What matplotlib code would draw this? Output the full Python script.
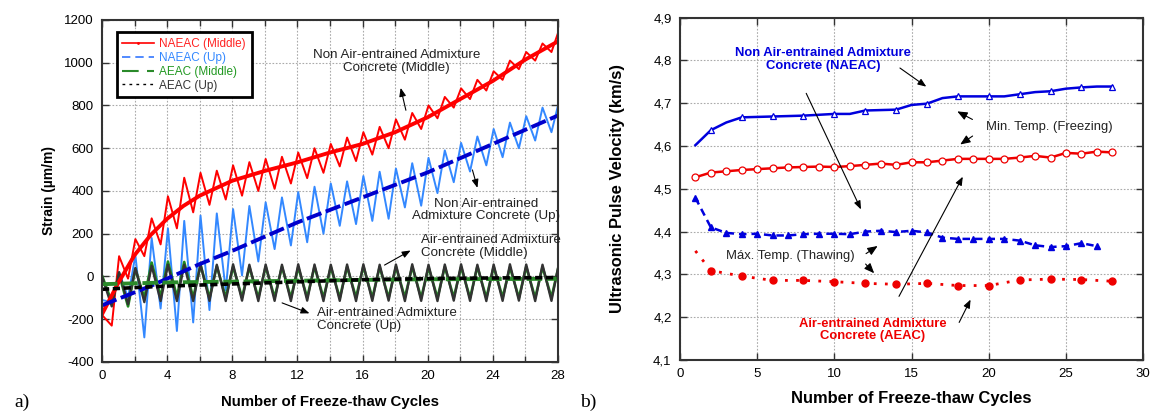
import numpy as np
import matplotlib.pyplot as plt
from matplotlib.lines import Line2D

plt.rcParams['font.family'] = ['Liberation Sans', 'DejaVu Sans']
plt.rcParams['axes.unicode_minus'] = False

# ---------------- a) strain vs cycles ----------------
# thick trend lines
trend_cyc_mid = [0, 1, 2, 3, 4, 5, 6, 8, 10, 12, 14, 16, 18, 20, 22, 24, 26, 28]
naeac_mid_trend = [-177, -30, 100, 195, 270, 330, 378, 448, 494, 534, 580, 620, 675, 745, 830, 915, 1015, 1100]
trend_cyc_up = [0, 3, 6, 8, 12, 16, 20, 24, 28]
naeac_up_trend = [-135, -44, 58, 120, 253, 370, 487, 620, 753]
trend_cyc_ae = [0, 2, 4, 8, 12, 16, 20, 24, 28]
aeac_mid_trend = [-36, -32, -28, -24, -20, -16, -13, -12, -11]
aeac_up_trend = [-60, -52, -45, -35, -25, -15, -10, -7, -5]

# raw readings: value at start, trough of each cycle (k+0.6), peak of each cycle (k+1)
naeac_mid_start = -180
naeac_mid_trough = [-230, -10, 95, 150, 225, 300, 335, 360, 378, 400, 410, 435, 460, 485,
                    515, 540, 570, 600, 640, 690, 740, 790, 830, 870, 920, 970, 1010, 1050]
naeac_mid_peak = [95, 175, 272, 375, 462, 485, 495, 520, 535, 550, 560, 580, 600, 620,
                  650, 675, 700, 735, 765, 800, 840, 880, 920, 960, 1010, 1050, 1090, 1150]
naeac_up_start = -110
naeac_up_trough = [-120, -100, -285, -150, -255, -215, -157, -65, 5, 70, 128, 145, 160, 200,
                   237, 245, 260, 270, 323, 331, 390, 441, 491, 520, 558, 600, 636, 675]
naeac_up_peak = [20, 100, 180, 225, 260, 285, 295, 315, 330, 347, 370, 395, 420, 435,
                 445, 470, 490, 505, 530, 555, 590, 625, 655, 690, 720, 750, 790, 815]
aeac_mid_start = 5
aeac_mid_trough = [-120, -140, -100, -95, -95, -100, -100, -98, -98, -100, -98, -100, -98, -100,
                   -100, -98, -100, -100, -98, -100, -100, -98, -100, -100, -98, -100, -100, -98]
aeac_mid_peak = [10, 35, 65, 70, 68, 55, 48, 45, 44, 46, 45, 43, 46, 44,
                 45, 47, 44, 45, 46, 43, 45, 44, 46, 45, 43, 45, 44, 50]
aeac_up_start = 0
aeac_up_trough = [-140, -130, -120, -115, -115, -115, -114, -115, -113, -115, -114, -115, -113, -115,
                  -114, -115, -114, -113, -115, -114, -115, -113, -114, -115, -114, -113, -115, -114]
aeac_up_peak = [20, 40, 50, 55, 55, 56, 55, 57, 55, 56, 55, 57, 56, 55,
                56, 57, 55, 56, 57, 55, 56, 57, 55, 56, 57, 56, 55, 58]

strain_ticks = [-400, -200, 0, 200, 400, 600, 800, 1000, 1200]
cyc_ticks_a = [0, 4, 8, 12, 16, 20, 24, 28]

# ---------------- b) UPV vs cycles ----------------
cyc = list(range(1, 29))
naeac_min = [4.602, 4.637, 4.655, 4.667, 4.668, 4.669, 4.670, 4.671, 4.673, 4.675, 4.675, 4.683, 4.684, 4.685,
             4.696, 4.699, 4.712, 4.716, 4.716, 4.716, 4.716, 4.721, 4.726, 4.728, 4.734, 4.737, 4.739, 4.739]
aeac_min = [4.527, 4.538, 4.541, 4.544, 4.546, 4.548, 4.550, 4.551, 4.552, 4.551, 4.553, 4.556, 4.559, 4.556,
            4.562, 4.562, 4.566, 4.570, 4.570, 4.570, 4.570, 4.573, 4.577, 4.573, 4.584, 4.582, 4.587, 4.585]
cyc_max_na = list(range(1, 28))
naeac_max = [4.479, 4.410, 4.397, 4.394, 4.395, 4.391, 4.391, 4.394, 4.395, 4.395, 4.394, 4.400, 4.402, 4.399,
             4.402, 4.398, 4.386, 4.383, 4.383, 4.383, 4.383, 4.379, 4.368, 4.364, 4.366, 4.373, 4.366]
cyc_max_ae = [1, 2, 4, 6, 8, 10, 12, 14, 16, 18, 20, 22, 24, 26, 28]
aeac_max = [4.355, 4.309, 4.296, 4.286, 4.286, 4.283, 4.279, 4.277, 4.279, 4.274, 4.274, 4.287, 4.289, 4.288, 4.284]

upv_ticks = [4.1, 4.2, 4.3, 4.4, 4.5, 4.6, 4.7, 4.8, 4.9]
upv_labels = ['4,1', '4,2', '4,3', '4,4', '4,5', '4,6', '4,7', '4,8', '4,9']
cyc_ticks_b = [0, 5, 10, 15, 20, 25, 30]


def zigzag(start, troughs, peaks):
    x = [0]
    y = [start]
    for k in range(len(troughs)):
        x += [k + 0.6, k + 1.05]
        y += [troughs[k], peaks[k]]
    return x, y


def style_axes(ax):
    for s in ax.spines.values():
        s.set_linewidth(1.5)
        s.set_color('#333333')
    ax.tick_params(which='both', direction='in', top=True, right=True,
                   length=5, width=1, labelsize=9.5, pad=6, colors='#333333', labelcolor='black')
    ax.grid(True, which='both', linestyle=(0, (1.5, 1.5)), color='#aaaaaa', linewidth=0.8)
    ax.set_axisbelow(True)


fig = plt.figure(figsize=(11.55, 4.12), dpi=100)
ax1 = fig.add_axes([0.0883, 0.1214, 0.3948, 0.8301])
ax2 = fig.add_axes([0.5887, 0.1262, 0.4011, 0.8310])

# ---- panel a
raw = dict(solid_joinstyle='round', solid_capstyle='round')
xb, yb = zigzag(naeac_up_start, naeac_up_trough, naeac_up_peak)
ax1.plot(xb, yb, color='#3388ff', lw=1.4, **raw)
xr, yr = zigzag(naeac_mid_start, naeac_mid_trough, naeac_mid_peak)
ax1.plot(xr, yr, color='#ff0000', lw=1.4, **raw)
xg, yg = zigzag(aeac_mid_start, aeac_mid_trough, aeac_mid_peak)
ax1.plot(xg, yg, color='#1f8a1f', lw=1.9, **raw)
xk, yk = zigzag(aeac_up_start, aeac_up_trough, aeac_up_peak)
ax1.plot(xk, yk, color='#333333', lw=1.7, **raw)

ax1.plot(trend_cyc_mid, naeac_mid_trend, color='#ff0000', lw=2.8)
ax1.plot(trend_cyc_up, naeac_up_trend, color='#0000cc', lw=2.8, ls=(0, (4, 1.2)))
ax1.plot(trend_cyc_ae, aeac_mid_trend, color='#2a8a2a', lw=2.8, ls=(0, (4, 1.2)))
ax1.plot(trend_cyc_ae, aeac_up_trend, color='black', lw=2.6, ls=(0, (2, 1)))

ax1.set_xlim(0, 28)
ax1.set_ylim(-400, 1200)
ax1.set_xticks(cyc_ticks_a)
ax1.set_xticks(range(0, 29, 2), minor=True)
ax1.set_yticks(strain_ticks)
style_axes(ax1)
ax1.tick_params(which='minor', length=4)
ax1.set_xlabel('Number of Freeze-thaw Cycles', fontsize=10.8, fontweight='bold', labelpad=9)
ax1.set_ylabel('Strain (\u00b5m/m)', fontsize=10, fontweight='bold', labelpad=6)

handles = [
    Line2D([], [], color='#ff0000', lw=1.2, marker='.', markersize=2, markevery=[1]),
    Line2D([], [], color='#3377ff', lw=1.2, ls=(0, (5, 3))),
    Line2D([], [], color='#2a8a2a', lw=1.5, ls=(0, (8, 4))),
    Line2D([], [], color='black', lw=1.0, ls=(0, (2, 3))),
]
labels = ['NAEAC (Middle)', 'NAEAC (Up)', 'AEAC (Middle)', 'AEAC (Up)']
leg = ax1.legend(handles, labels, loc='upper left', bbox_to_anchor=(0.032, 0.964),
                 borderaxespad=0, fancybox=False, fontsize=8.5, handlelength=2.7,
                 labelspacing=0.15, borderpad=0.5, handletextpad=0.4, framealpha=1)
leg.get_frame().set_edgecolor('black')
leg.get_frame().set_linewidth(2)
for txt, c in zip(leg.get_texts(), ['#ff2222', '#3388ff', '#229922', '#333333']):
    txt.set_color(c)

ann = dict(fontsize=9.6, color='#222222', ha='center', va='center', linespacing=1.1)
ax1.text(18.1, 1004, 'Non Air-entrained Admixture\nConcrete (Middle)', **ann)
ax1.text(23.6, 311, 'Non Air-entrained\nAdmixture Concrete (Up)', **ann)
ax1.text(19.6, 139, 'Air-entrained Admixture\nConcrete (Middle)', fontsize=9.6, color='#222222',
         ha='left', va='center', linespacing=1.1)
ax1.text(13.2, -203, 'Air-entrained Admixture\nConcrete (Up)', fontsize=9.6, color='#222222',
         ha='left', va='center', linespacing=1.1)
arr = dict(arrowstyle='-|>,head_length=0.5,head_width=0.2', color='black', lw=0.8)
ax1.annotate('', xy=(18.3, 895), xytext=(18.7, 765), arrowprops=arr)
ax1.annotate('', xy=(23.1, 402), xytext=(22.7, 511), arrowprops=arr)
ax1.annotate('', xy=(19.1, 128), xytext=(17.2, 47), arrowprops=arr)
ax1.annotate('', xy=(12.9, -177), xytext=(10.9, -119), arrowprops=arr)

# ---- panel b
ax2.plot(cyc, naeac_min, color='#0000dd', lw=1.8, marker='^', markersize=5,
         markerfacecolor='white', markeredgewidth=0.9, markevery=list(range(1, 28, 2)))
ax2.plot(cyc, aeac_min, color='#ee0000', lw=1.8, marker='o', markersize=5,
         markerfacecolor='white', markeredgewidth=0.9)
ax2.plot(cyc_max_na, naeac_max, color='#0000dd', lw=1.8, ls=(0, (3, 2)), marker='^',
         markersize=5)
ax2.plot(cyc_max_ae, aeac_max, color='#ee0000', lw=2.0, ls=(0, (1, 3)), marker='o',
         markersize=5, markevery=list(range(1, 15)))

ax2.set_xlim(0, 30)
ax2.set_ylim(4.1, 4.9)
ax2.set_xticks(cyc_ticks_b)
ax2.set_yticks(upv_ticks)
ax2.set_yticklabels(upv_labels)
style_axes(ax2)
ax2.set_xlabel('Number of Freeze-thaw Cycles', fontsize=11.9, fontweight='bold', labelpad=8)
ax2.set_ylabel('Ultrasonic Pulse Velocity (km/s)', fontsize=11.9, fontweight='bold', labelpad=20)

ax2.text(9.28, 4.803, 'Non Air-entrained Admixture\nConcrete (NAEAC)', fontsize=9.4,
         fontweight='bold', color='#0000dd', ha='center', va='center', linespacing=1.1)
ax2.text(12.5, 4.170, 'Air-entrained Admixture\nConcrete (AEAC)', fontsize=9.4,
         fontweight='bold', color='#ee0000', ha='center', va='center', linespacing=1.1)
ax2.text(19.8, 4.645, 'Min. Temp. (Freezing)', fontsize=9.4, color='#222222', ha='left', va='center')
ax2.text(3.0, 4.343, 'M\u00e1x. Temp. (Thawing)', fontsize=9.4, color='#222222', ha='left', va='center')

ax2.annotate('', xy=(16.1, 4.735), xytext=(14.1, 4.786), arrowprops=arr)
ax2.annotate('', xy=(11.8, 4.446), xytext=(8.1, 4.729), arrowprops=arr)
ax2.annotate('', xy=(18.9, 4.247), xytext=(18.0, 4.182), arrowprops=arr)
ax2.annotate('', xy=(18.4, 4.534), xytext=(14.1, 4.243), arrowprops=arr)
open_arr = dict(arrowstyle='-|>,head_length=0.6,head_width=0.25', color='black',
                facecolor='white', lw=0.8)
ax2.annotate('', xy=(17.8, 4.684), xytext=(19.1, 4.659), arrowprops=open_arr)
ax2.annotate('', xy=(18.0, 4.600), xytext=(19.1, 4.627), arrowprops=open_arr)
ax2.annotate('', xy=(12.95, 4.370), xytext=(11.9, 4.345), arrowprops=open_arr)
ax2.annotate('', xy=(12.7, 4.298), xytext=(11.9, 4.329), arrowprops=open_arr)

fig.text(22 / 1155, 1 - 402 / 412, 'a)', fontsize=14, family='Liberation Serif',
         ha='center', va='center')
fig.text(588 / 1155, 1 - 402 / 412, 'b)', fontsize=14, family='Liberation Serif',
         ha='center', va='center')

fig.savefig('out.png', dpi=100)
